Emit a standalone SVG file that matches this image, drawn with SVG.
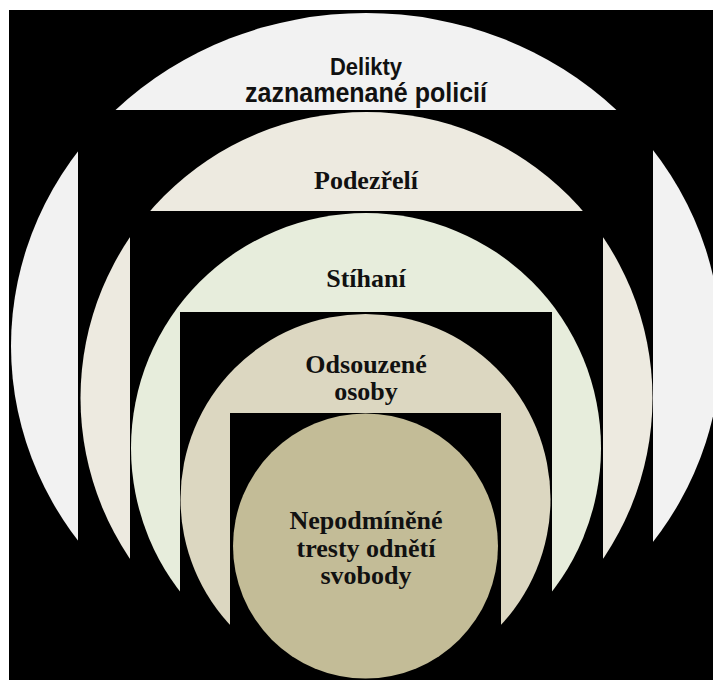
<svg xmlns="http://www.w3.org/2000/svg" width="713" height="680" viewBox="0 0 713 680">
  <style>
    .mask { fill: #000000; }
    .sans { font-family: "Liberation Sans", Arial, sans-serif; font-weight: bold; fill: #111111; text-anchor: middle; }
    .serif { font-family: "Liberation Serif", "Times New Roman", serif; font-weight: bold; font-size: 26px; fill: #111111; text-anchor: middle; }
  </style>
  <rect x="0" y="0" width="713" height="680" fill="#ffffff"/>
  <rect x="9" y="10" width="704" height="670" class="mask"/>

  <g id="node-delikty">
    <ellipse cx="366" cy="346" rx="355" ry="333" fill="#f2f2f2"/>
    <text class="sans" x="366" y="75" font-size="24" textLength="72" lengthAdjust="spacingAndGlyphs">Delikty</text>
    <text class="sans" x="366" y="102" font-size="27" textLength="242" lengthAdjust="spacingAndGlyphs">zaznamenané policií</text>
    <rect x="78" y="110" width="575" height="570" class="mask"/>
  </g>

  <g id="node-podezreli">
    <circle cx="366.5" cy="398" r="286" fill="#edeae0"/>
    <text class="serif" x="366" y="189">Podezřelí</text>
    <rect x="130" y="211" width="473" height="469" class="mask"/>
  </g>

  <g id="node-stihani">
    <circle cx="366" cy="448" r="235" fill="#e7eddc"/>
    <text class="serif" x="366" y="287">Stíhaní</text>
    <rect x="180" y="312" width="372" height="368" class="mask"/>
  </g>

  <g id="node-odsouzene">
    <circle cx="365.5" cy="499" r="185" fill="#dcd7c1"/>
    <text class="serif" x="366" y="373">Odsouzené</text>
    <text class="serif" x="366" y="400">osoby</text>
    <rect x="230" y="413" width="271" height="267" class="mask"/>
  </g>

  <g id="node-nepodminene">
    <circle cx="365.5" cy="546" r="132.5" fill="#c3bc97"/>
    <text class="serif" x="366" y="529">Nepodmíněné</text>
    <text class="serif" x="366" y="557">tresty odnětí</text>
    <text class="serif" x="366" y="584">svobody</text>
  </g>

  <g id="connectors"/>
</svg>
